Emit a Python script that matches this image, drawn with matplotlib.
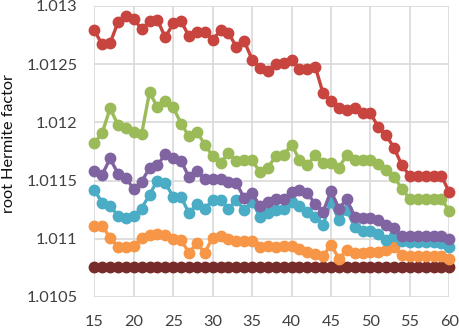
import matplotlib
matplotlib.use("Agg")
import matplotlib.pyplot as plt

x = list(range(15, 61))

red = [1.01279, 1.01267, 1.01268, 1.01286, 1.01291, 1.01289, 1.01280, 1.01287, 1.01288, 1.01273,
       1.01285, 1.01287, 1.01274, 1.01278, 1.01278, 1.01271, 1.01279, 1.01277, 1.01265, 1.01270,
       1.01254, 1.01247, 1.01244, 1.01250, 1.01251, 1.01254, 1.01246, 1.01246, 1.01248, 1.01225,
       1.01218, 1.01212, 1.01211, 1.01212, 1.01208, 1.01208, 1.01196, 1.01189, 1.01178, 1.01163,
       1.01154, 1.01154, 1.01154, 1.01154, 1.01154, 1.01140]
green = [1.01182, 1.01191, 1.01212, 1.01198, 1.01195, 1.01192, 1.01190, 1.01226, 1.01213, 1.01218,
         1.01213, 1.01199, 1.01188, 1.01192, 1.01181, 1.01171, 1.01165, 1.01174, 1.01167, 1.01168,
         1.01168, 1.01157, 1.01161, 1.01171, 1.01172, 1.01181, 1.01168, 1.01163, 1.01172, 1.01165,
         1.01165, 1.01161, 1.01172, 1.01168, 1.01168, 1.01168, 1.01164, 1.01159, 1.01153, 1.01143,
         1.01134, 1.01134, 1.01134, 1.01134, 1.01134, 1.01124]
purple = [1.01158, 1.01155, 1.01169, 1.01156, 1.01152, 1.01143, 1.01149, 1.01161, 1.01163, 1.01173,
          1.01169, 1.01167, 1.01153, 1.01158, 1.01151, 1.01151, 1.01151, 1.01149, 1.01148, 1.01135,
          1.01139, 1.01128, 1.01132, 1.01134, 1.01134, 1.01140, 1.01142, 1.01139, 1.01130, 1.01123,
          1.01141, 1.01126, 1.01134, 1.01119, 1.01118, 1.01118, 1.01116, 1.01112, 1.01109, 1.01102,
          1.01102, 1.01102, 1.01102, 1.01102, 1.01102, 1.01100]
cyan = [1.01142, 1.01131, 1.01128, 1.01120, 1.01118, 1.01120, 1.01126, 1.01138, 1.01150, 1.01148,
        1.01136, 1.01136, 1.01122, 1.01130, 1.01126, 1.01133, 1.01133, 1.01126, 1.01133, 1.01125,
        1.01132, 1.01119, 1.01122, 1.01125, 1.01126, 1.01132, 1.01128, 1.01123, 1.01119, 1.01112,
        1.01132, 1.01116, 1.01125, 1.01110, 1.01107, 1.01107, 1.01104, 1.01099, 1.01102, 1.01098,
        1.01097, 1.01097, 1.01097, 1.01097, 1.01096, 1.01093]
orange = [1.01111, 1.01111, 1.01101, 1.01093, 1.01093, 1.01094, 1.01101, 1.01103, 1.01104, 1.01103,
          1.01100, 1.01099, 1.01088, 1.01096, 1.01088, 1.01101, 1.01102, 1.01100, 1.01098, 1.01098,
          1.01098, 1.01093, 1.01094, 1.01093, 1.01094, 1.01094, 1.01091, 1.01089, 1.01087, 1.01085,
          1.01095, 1.01083, 1.01090, 1.01088, 1.01088, 1.01089, 1.01089, 1.01090, 1.01093, 1.01086,
          1.01085, 1.01085, 1.01085, 1.01085, 1.01085, 1.01083]
darkred = [1.01076] * 46

series = [
    (darkred, "#772C2A"),
    (orange, "#F79646"),
    (cyan, "#4BACC6"),
    (purple, "#8064A2"),
    (green, "#9BBB59"),
    (red, "#C8453F"),
]

yticks = [1.0105, 1.011, 1.0115, 1.012, 1.0125, 1.013]
ytick_labels = ["1.0105", "1.011", "1.0115", "1.012", "1.0125", "1.013"]
xticks = [15, 20, 25, 30, 35, 40, 45, 50, 55, 60]
ylabel = "root Hermite factor"

plt.rcParams['font.family'] = ['Lato', 'DejaVu Sans']

fig = plt.figure(figsize=(4.59, 3.29), dpi=100)
ax = fig.add_axes([94.3 / 459, 1 - 297 / 329, (449.3 - 94.3) / 459, (297 - 6) / 329])

for vals, col in series:
    ax.plot(x, vals, color=col, lw=2.4, marker="o", ms=7.5, mec=col, mfc=col, clip_on=False, zorder=3)

ax.set_xlim(15, 60)
ax.set_ylim(1.0105, 1.013)
ax.set_xticks(xticks)
ax.set_xticklabels([str(t) for t in xticks], fontsize=11.7, color="#404040")
ax.set_yticks(yticks)
ax.set_yticklabels(ytick_labels, fontsize=11.7, color="#404040")
ax.tick_params(axis="y", length=0, pad=12.2)
ax.tick_params(axis="x", length=0, pad=13)
ax.grid(True, color="#d9d9d9", lw=1.2)
ax.set_axisbelow(True)
for s in ax.spines.values():
    s.set_visible(False)
fig.text(9 / 459, 1 - 143.5 / 329, ylabel, rotation=90, ha="center", va="center",
         fontsize=11.7, color="#111111")

fig.savefig("out.png", dpi=100)
